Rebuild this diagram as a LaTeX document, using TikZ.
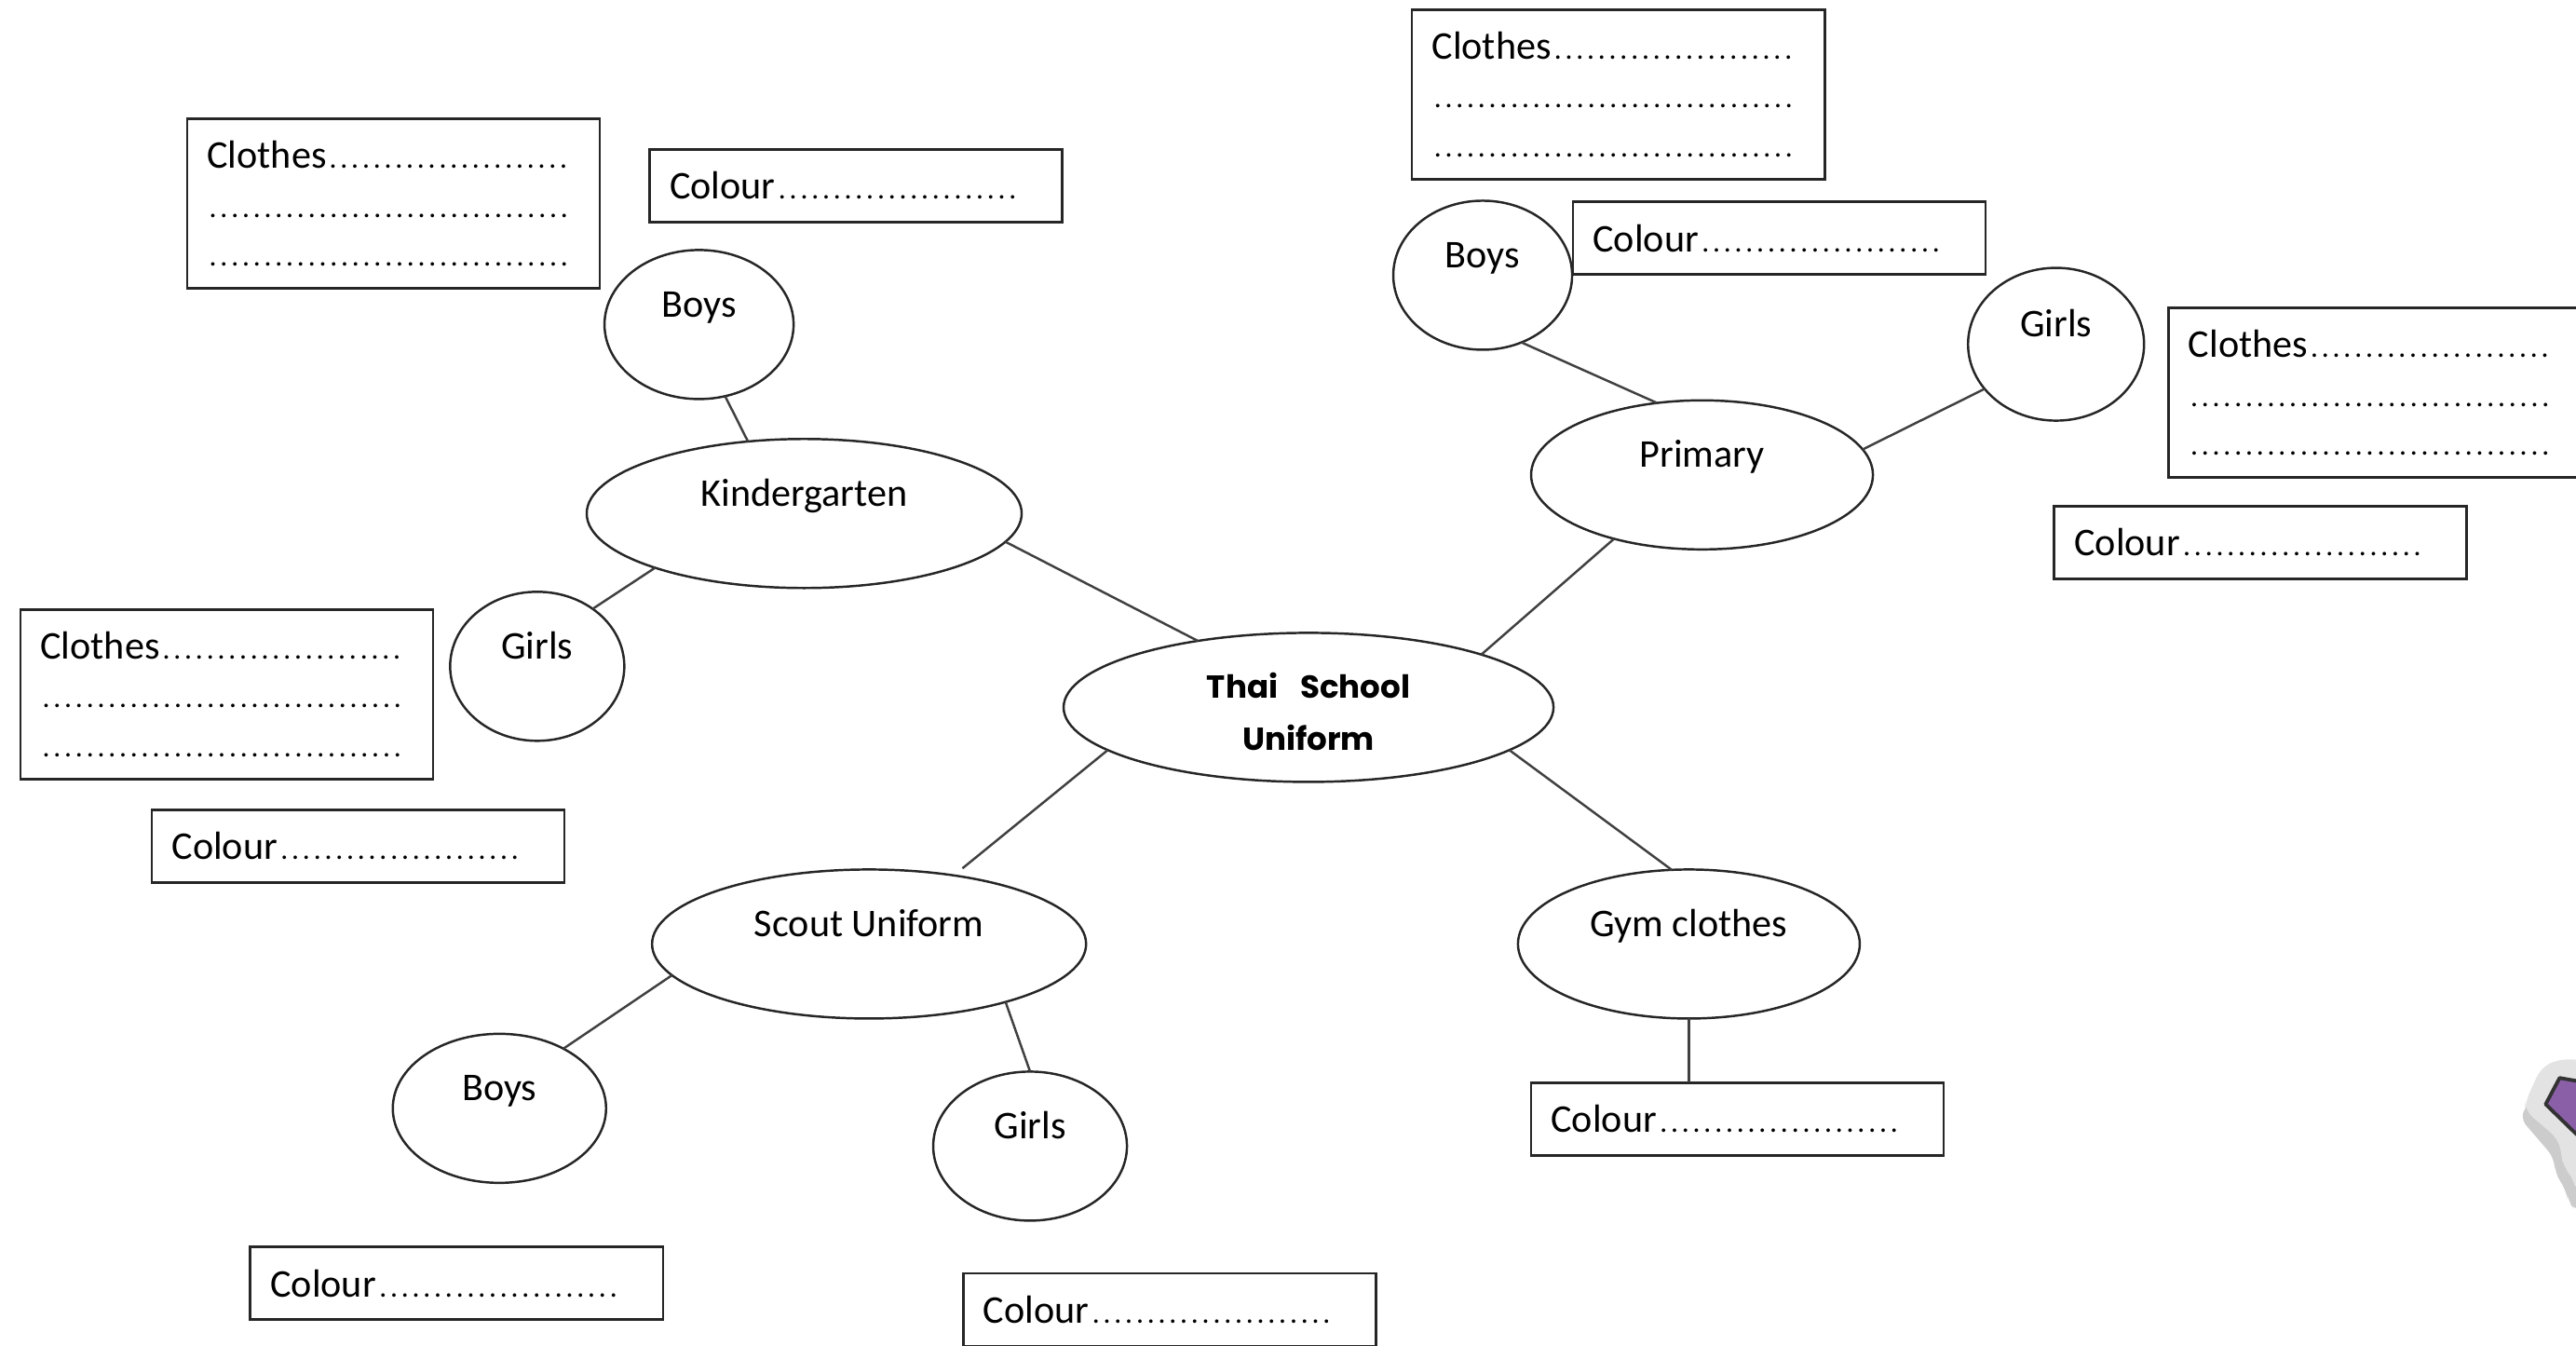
\documentclass[tikz,border=0pt]{standalone}
\usepackage{fontspec}
\setmainfont{Carlito}
\newfontfamily\hubfont{Poppins}
\usetikzlibrary{shapes,positioning}
\newcommand{\dotrun}{\leavevmode\cleaders\hbox to .118cm{\hss\fontsize{9}{9}\selectfont.\hss}\hfill}
\newcommand{\fillin}[1]{#1\dotrun\kern.1cm\\\dotrun\kern.1cm\\\dotrun\kern.1cm}
\newcommand{\colourin}{Colour\dotrun\kern.24cm}

\begin{document}
\begin{tikzpicture}[x=0.01764cm,y=-0.01764cm]
      \tikzstyle{hub} = [ellipse, draw=black!85, line width=0.7pt, inner sep=0, outer sep=0, minimum width=5.26cm, minimum height=1.6cm, align=center, font=\hubfont\bfseries\fontsize{9.7}{16}\selectfont]
      \tikzstyle{topic} = [ellipse, draw=black!85, line width=0.7pt, inner sep=0, outer sep=0, minimum height=1.6cm, text height=.25cm, text depth=.41cm, font=\fontsize{12}{15}\selectfont]
      \tikzstyle{colourbox} = [rectangle, draw=black!85, line width=0.8pt, outer sep=0, inner xsep=0, inner ysep=0, minimum width=4.43cm, minimum height=.78cm, text width=4cm, align=left, font=\fontsize{12}{15}\selectfont]
      \tikzstyle{clothesbox} = [colourbox, minimum height=1.82cm]
      \tikzstyle{link} = [draw=black!75, line width=0.7pt]

      \useasboundingbox (0,0) rectangle (1568,819);

      % corner mark
      \begin{scope}
        \clip (0,0) rectangle (1568,819);
        \fill[black!20, rounded corners=3pt] (1552,652) -- (1533.5,680) -- (1555,705) -- (1555,714) -- (1562,724) -- (1563,731) -- (1568,737) -- (1575,737) -- (1575,652) -- cycle;
        \fill[black!11, rounded corners=3pt] (1557,644.6) -- (1546.5,650) -- (1537,671) -- (1537,676) -- (1557,693) -- (1559,701) -- (1560,710) -- (1566,716) -- (1568,725.6) -- (1575,726) -- (1575,645) -- cycle;
        \draw[draw=black!80, fill={rgb,255:red,139;green,95;blue,168}, line width=1.1pt, line join=round] (1558,656) -- (1549.5,672) -- (1568,690) -- (1575,695) -- (1575,659) -- cycle;
      \end{scope}

      \node[hub] (uniform) at (796.5,430.5) {\rule{0pt}{10.4pt}Thai\hspace{.7em}School\\Uniform};

      \node[topic, minimum width=4.67cm] (kinder) at (489.5,312.5) {Kindergarten};
      \node[topic, minimum width=3.67cm] (primary) at (1036,289) {Primary};
      \node[topic, minimum width=4.66cm] (scout) at (529,574.5) {Scout Uniform};
      \node[topic, minimum width=3.67cm] (gym) at (1028,574.5) {Gym clothes};

      \node[topic, minimum width=2.03cm] (kboys) at (425.5,197.5) {Boys};
      \node[topic, minimum width=1.87cm] (kgirls) at (327,405.5) {Girls};
      \node[topic, minimum width=1.92cm] (pboys) at (902.5,167.5) {Boys};
      \node[topic, minimum width=1.89cm, minimum height=1.64cm] (pgirls) at (1251.5,209.5) {Girls};
      \node[topic, minimum width=2.29cm] (sboys) at (304,674.5) {Boys};
      \node[topic, minimum width=2.08cm] (sgirls) at (627,697.5) {Girls};

      \node[clothesbox] (kbclothes) at (239.5,124) {\fillin{Clothes}};
      \node[colourbox] (kbcolour) at (521,113) {\colourin};
      \node[clothesbox] (kgclothes) at (138,422.5) {\fillin{Clothes}};
      \node[colourbox] (kgcolour) at (218,515) {\colourin};
      \node[clothesbox] (pbclothes) at (985,57.5) {\fillin{Clothes}};
      \node[colourbox] (pbcolour) at (1083,145) {\colourin};
      \node[clothesbox] (pgclothes) at (1445.5,239) {\fillin{Clothes}};
      \node[colourbox] (pgcolour) at (1376,330) {\colourin};
      \node[colourbox] (sbcolour) at (278,781) {\colourin};
      \node[colourbox] (sgcolour) at (712,797) {\colourin};
      \node[colourbox] (gymcolour) at (1057.5,681) {\colourin};

      \draw[link] (uniform.149.8) -- (kinder.-8.7);
      \draw[link] (uniform.17.5) -- (primary.216.7);
      \draw[link, shorten >=.12cm] (uniform.192.2) -- (scout.39.3);
      \draw[link] (uniform.-12.8) -- (gym.103);

      \draw[link] (kinder.128.4) -- (kboys.-70);
      \draw[link] (kinder.200.6) -- (kgirls.46);
      \draw[link] (primary.122) -- (pboys.-60);
      \draw[link] (primary.9.7) -- (pgirls.212);
      \draw[link] (scout.189.7) -- (sboys.43);
      \draw[link] (scout.-23.8) -- (sgirls.90);
      \draw[link] (gym.south) -- (gym.south |- gymcolour.north);
    \end{tikzpicture}
\end{document}
